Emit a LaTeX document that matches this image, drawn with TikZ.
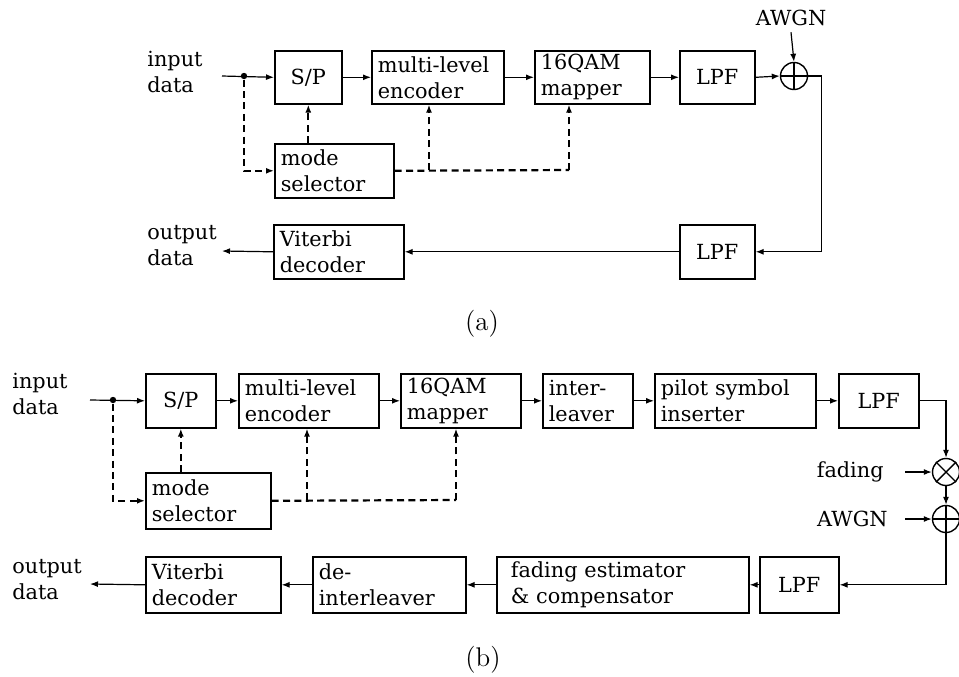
\documentclass[tikz,border=0pt]{standalone}
\usepackage{fontspec}
\newfontfamily\boxfont{DejaVu Serif}
\usetikzlibrary{arrows.meta}
\tikzset{
        blk/.style 2 args={draw, line width=0.8pt, anchor=north west, inner xsep=3pt, inner ysep=0pt,
                text width=#1, minimum height=#2, align=left, font=\boxfont\fontsize{10.4}{13}\selectfont},
        blkc/.style 2 args={blk={#1}{#2}, align=center},
        lbl/.style={inner sep=0pt, align=left, font=\boxfont\fontsize{10.4}{13}\selectfont},
        capt/.style={inner sep=0pt, font=\fontsize{13.5}{15}\selectfont},
        sig/.style={line width=0.6pt, -{Latex[length=4pt,width=3pt]}},
        dsh/.style={line width=1.1pt, dash pattern=on 3.5pt off 2.2pt, -{Latex[length=4pt,width=3pt]}},
        dshline/.style={line width=1.1pt, dash pattern=on 3.5pt off 2.2pt},
        mixer/.style={circle, draw, line width=0.7pt, minimum size=13.5pt, inner sep=0pt},
        junction/.style={circle, fill, inner sep=0pt, minimum size=3.2pt}
}
\begin{document}
\begin{tikzpicture}[x=0.5pt, y=-0.5pt]
        \useasboundingbox (0,0) rectangle (959,676);

        \node [lbl, anchor=west] (ina) at (147,72) {input\\data};
        \node [lbl, anchor=west] (outa) at (147,246) {output\\data};
        \node [blkc={27.5pt}{26.5pt}] (spa) at (274,50) {S/P};
        \node [blk={60pt}{26.5pt}] (enca) at (371,50) {multi-level\\encoder};
        \node [blk={51.5pt}{26.5pt}] (mapa) at (534,50) {16QAM\\mapper};
        \node [blkc={31.5pt}{26.5pt}] (lpfa) at (679,50) {LPF};
        \node [mixer] (suma) at (794,76) {};
        \node [lbl, inner ysep=3pt] (awgna) at (791,18) {AWGN};
        \node [blk={53.5pt}{27pt}] (modea) at (274,143) {mode\\selector};
        \node [blkc={31.5pt}{27pt}] (lpfra) at (679,224) {LPF};
        \node [blk={59pt}{27pt}] (vita) at (273,224) {Viterbi\\decoder};
        \coordinate (srca) at (222,76);
        \coordinate (snka) at (222,251);
        \node [junction] (dota) at (244,76) {};
        \coordinate (brenca) at (429,170);
        \coordinate (brmapa) at (569,170);

        \draw [sig] (srca) -- (spa.west);
        \draw [sig] (spa.east) -- (enca.west);
        \draw [sig] (enca.east) -- (mapa.west);
        \draw [sig] (mapa.east) -- (lpfa.west);
        \draw [sig] (lpfa.east) -- (suma.west);
        \draw [sig] (awgna.south) -- (suma.north);
        \draw [line width=0.7pt] (suma.north) -- (suma.south) (suma.west) -- (suma.east);
        \draw [sig] (suma.east) -- ++(13,0) |- (lpfra.east);
        \draw [sig] (lpfra.west) -- (vita.east);
        \draw [sig] (vita.west) -- (snka);
        \draw [dsh] (dota) |- (modea.west);
        \draw [dsh] (spa.south |- modea.north) -- (spa.south);
        \draw [dshline] (modea.east) -- (brmapa);
        \draw [dsh] (brmapa) -- (brmapa |- mapa.south);
        \draw [dsh] (brenca) -- (brenca |- enca.south);
        \node [capt] (capa) at (482,324) {(a)};

        \node [lbl, anchor=west] (inb) at (12,394) {input\\data};
        \node [lbl, anchor=west] (outb) at (12,580) {output\\data};
        \node [blkc={29pt}{27pt}] (spb) at (145,373) {S/P};
        \node [blk={64pt}{27pt}] (encb) at (238,373) {multi-level\\encoder};
        \node [blk={54pt}{27pt}] (mapb) at (400,373) {16QAM\\mapper};
        \node [blk={39pt}{27pt}] (ilv) at (542,373) {inter-\\leaver};
        \node [blk={74.5pt}{27pt}] (pil) at (654,373) {pilot symbol\\inserter};
        \node [blkc={34pt}{27pt}] (lpfb) at (838,373) {LPF};
        \node [mixer] (mult) at (946,472) {};
        \node [mixer] (sumb) at (946,519) {};
        \node [lbl, anchor=east] (fad) at (884,472) {fading};
        \node [lbl, anchor=east] (awgnb) at (888,519) {AWGN};
        \node [blk={56.5pt}{28pt}] (modeb) at (145,472) {mode\\selector};
        \node [blkc={33.5pt}{28pt}] (lpfrb) at (759,556) {LPF};
        \node [blk={112pt}{28pt}, inner xsep=7pt] (fest) at (496,556) {fading estimator\\\& compensator};
        \node [blk={70.5pt}{28pt}] (dil) at (312,556) {de-\\interleaver};
        \node [blk={61.5pt}{28pt}] (vitb) at (145,556) {Viterbi\\decoder};
        \coordinate (srcb) at (90,400);
        \coordinate (snkb) at (90,584);
        \node [junction] (dotb) at (113,400) {};
        \coordinate (fadin) at (905,472);
        \coordinate (awgnin) at (905,519);
        \coordinate (brencb) at (307,500);
        \coordinate (brmapb) at (456,500);

        \draw [sig] (srcb) -- (spb.west);
        \draw [sig] (spb.east) -- (encb.west);
        \draw [sig] (encb.east) -- (mapb.west);
        \draw [sig] (mapb.east) -- (ilv.west);
        \draw [sig] (ilv.east) -- (pil.west);
        \draw [sig] (pil.east) -- (lpfb.west);
        \draw [sig] (lpfb.east) -| (mult.north);
        \draw [sig] (fadin) -- (mult.west);
        \draw [line width=0.7pt] (mult.north west) -- (mult.south east) (mult.north east) -- (mult.south west);
        \draw [sig] (mult.south) -- (sumb.north);
        \draw [sig] (awgnin) -- (sumb.west);
        \draw [line width=0.7pt] (sumb.north) -- (sumb.south) (sumb.west) -- (sumb.east);
        \draw [sig] (sumb.south) |- (lpfrb.east);
        \draw [sig] (lpfrb.west) -- (fest.east);
        \draw [sig] (fest.west) -- (dil.east);
        \draw [sig] (dil.west) -- (vitb.east);
        \draw [sig] (vitb.west) -- (snkb);
        \draw [dsh] (dotb) |- (modeb.west);
        \draw [dsh] (spb.south |- modeb.north) -- (spb.south);
        \draw [dshline] (modeb.east) -- (brmapb);
        \draw [dsh] (brmapb) -- (brmapb |- mapb.south);
        \draw [dsh] (brencb) -- (brencb |- encb.south);
        \node [capt] (capb) at (483,660) {(b)};
\end{tikzpicture}
\end{document}
